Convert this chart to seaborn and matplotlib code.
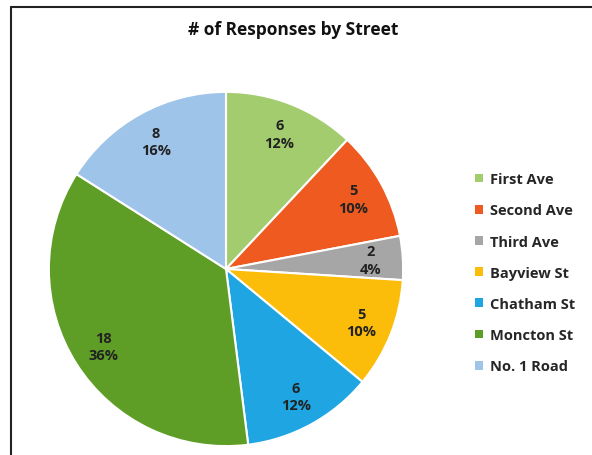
import matplotlib
matplotlib.use("Agg")
import matplotlib.pyplot as plt
import seaborn as sns
from matplotlib.patches import Patch
from matplotlib.lines import Line2D

# --- dados ---
ruas = ["First Ave", "Second Ave", "Third Ave", "Bayview St", "Chatham St", "Moncton St", "No. 1 Road"]
respostas = [6, 5, 2, 5, 6, 18, 8]
cores = ["#a3cc6e", "#ee5a20", "#a6a6a6", "#fbbd0a", "#1fa5e2", "#5f9e26", "#9fc4e9"]

sns.set_theme(style="white")
plt.rcParams["font.family"] = ["Open Sans", "DejaVu Sans"]

fig = plt.figure(figsize=(5.92, 4.56), dpi=100)
ax = fig.add_axes([48 / 592, 8 / 456, 356 / 592, 356 / 456])

total = sum(respostas)
paleta = sns.color_palette(cores)

wedges, _, autotexts = ax.pie(
    respostas,
    colors=paleta,
    startangle=90,
    counterclock=False,
    autopct=lambda p: f"{round(p * total / 100):d}\n{p:.0f}%",
    pctdistance=0.82,
    wedgeprops=dict(edgecolor="white", linewidth=1.5),
    textprops=dict(fontsize=10.5, fontweight="bold", color="#222222", linespacing=1.3),
)
ax.set_aspect("equal")
ax.set_xlim(-1.005, 1.005)
ax.set_ylim(-1.005, 1.005)

# titulo
fig.text(293 / 592, 1 - 30 / 456, "# of Responses by Street", ha="center", va="center",
         fontsize=12.5, fontweight="bold", color="#111111")

# legenda
handles = [Patch(facecolor=c, edgecolor="none") for c in paleta]
leg = fig.legend(handles, ruas, loc="upper left", bbox_to_anchor=(462 / 592, 1 - 160 / 456),
                 frameon=False, prop=dict(size=10.5, weight="bold"),
                 handlelength=0.55, handleheight=0.55, handletextpad=0.5, labelspacing=1.18)

# moldura do grafico
y_top = 1 - 8 / 456
x_left = 11 / 592
fig.add_artist(Line2D([x_left, x_left], [0, y_top], color="#222222", lw=1.5))
fig.add_artist(Line2D([x_left, 1], [y_top, y_top], color="#222222", lw=1.5))

fig.savefig("out.png", dpi=100)
